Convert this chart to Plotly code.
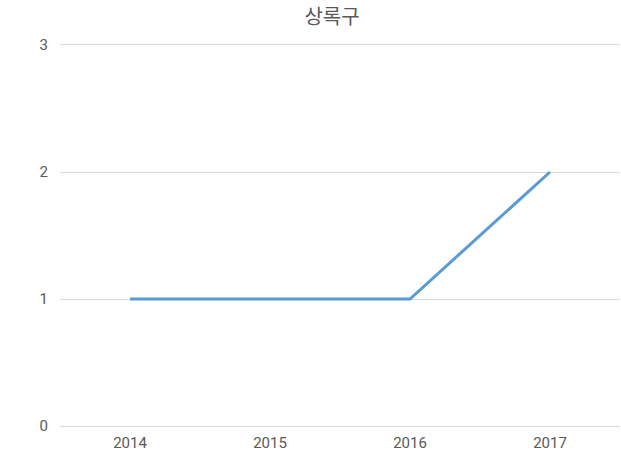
import plotly.graph_objects as go

years = ["2014", "2015", "2016", "2017"]
values = [1, 1, 1, 2]
title_text = "상록구"

fig = go.Figure(go.Scatter(
    x=years, y=values, mode="lines",
    line=dict(color="#5b9bd5", width=3),
))
fig.update_layout(
    width=621, height=452,
    margin=dict(l=60, r=1, t=45, b=26),
    paper_bgcolor="white", plot_bgcolor="white",
    font=dict(family="Roboto", color="#595959", size=15),
    title=dict(text=title_text, x=332/621, xanchor="center", y=1 - 17/452, yanchor="middle",
               font=dict(size=20, color="#595959", family="Noto Sans CJK KR")),
    showlegend=False,
)
fig.update_xaxes(type="category", showgrid=False, zeroline=False,
                 showline=True, mirror=True, linecolor="#d9d9d9", linewidth=1,
                 ticks="outside", ticklen=3, tickcolor="rgba(0,0,0,0)",
                 range=[-0.5, 3.5], tickfont=dict(size=15))
fig.update_yaxes(range=[0, 3], dtick=1, showgrid=True, gridcolor="#d9d9d9", gridwidth=1,
                 zeroline=False, showline=False, ticks="outside", ticklen=8,
                 tickcolor="rgba(0,0,0,0)", tickfont=dict(size=15))
fig.write_html("out.html", config={"displayModeBar": False},
               post_script="document.body.style.margin='0';document.body.style.overflow='hidden';")
